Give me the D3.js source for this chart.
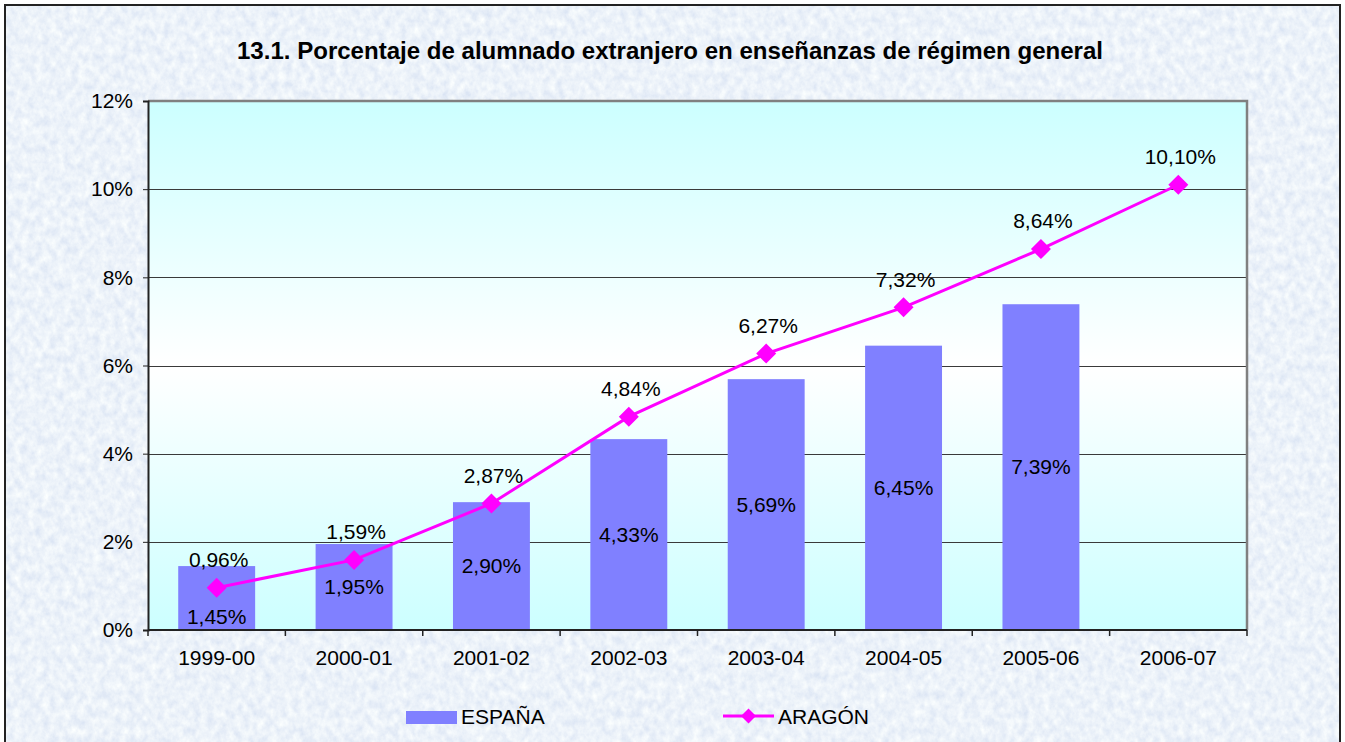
<!DOCTYPE html>
<html>
<head>
<meta charset="utf-8">
<script src="https://cdn.jsdelivr.net/npm/d3@7/dist/d3.min.js"></script>
<style>
  html, body { margin: 0; padding: 0; background: #ffffff; }
  svg { display: block; font-family: "Liberation Sans", Arial, sans-serif; }
</style>
</head>
<body>
<svg id="chart" width="1345" height="742"></svg>
<script>
// Curso escolar
const categories = ["1999-00", "2000-01", "2001-02", "2002-03", "2003-04", "2004-05", "2005-06", "2006-07"];
// Porcentaje de alumnado extranjero (%)
const espana = [1.45, 1.95, 2.90, 4.33, 5.69, 6.45, 7.39, null];
const aragon = [0.96, 1.59, 2.87, 4.84, 6.27, 7.32, 8.64, 10.10];
const yTicks = [0, 2, 4, 6, 8, 10, 12];
const seriesNames = ["ESPAÑA", "ARAGÓN"];
const title = "13.1. Porcentaje de alumnado extranjero en enseñanzas de régimen general";

const W = 1345, H = 742;
const plot = { left: 148, right: 1247, top: 101, bottom: 630 };

const esLocale = d3.formatLocale({ decimal: ",", thousands: ".", grouping: [3], currency: ["", " €"] });
const fmtVal = v => esLocale.format(".2f")(v) + "%";
const fmtTick = v => v + "%";

const svg = d3.select("#chart");
const defs = svg.append("defs");

// Marbled light-blue texture for the chart frame
const tex = defs.append("filter").attr("id", "marble")
  .attr("x", 0).attr("y", 0).attr("width", "100%").attr("height", "100%");
tex.append("feTurbulence").attr("type", "fractalNoise")
  .attr("baseFrequency", "0.14 0.11").attr("numOctaves", 4).attr("seed", 7).attr("result", "n");
tex.append("feColorMatrix").attr("in", "n").attr("type", "matrix")
  .attr("values", [
    0.34, 0, 0, 0, 0.67,
    0.28, 0, 0, 0, 0.75,
    0.12, 0, 0, 0, 0.89,
    0, 0, 0, 0, 1
  ].join(" "));

// Plot-area fill: cyan at the edges, white through the middle
const grad = defs.append("linearGradient").attr("id", "plotFill")
  .attr("x1", 0).attr("y1", 0).attr("x2", 0).attr("y2", 1);
grad.append("stop").attr("offset", "0%").attr("stop-color", "#ccffff");
grad.append("stop").attr("offset", "50%").attr("stop-color", "#ffffff");
grad.append("stop").attr("offset", "100%").attr("stop-color", "#ccffff");

// Chart frame
svg.append("rect").attr("x", 5).attr("y", 5).attr("width", 1335).attr("height", 745)
  .attr("fill", "#d8e5f5").attr("filter", "url(#marble)");
svg.append("rect").attr("x", 5).attr("y", 5).attr("width", 1335).attr("height", 745)
  .attr("fill", "none").attr("stroke", "#222").attr("stroke-width", 2);

// Title
const titleText = svg.append("text")
  .attr("x", 670).attr("y", 59)
  .attr("text-anchor", "middle")
  .attr("font-weight", "bold").attr("font-size", 23.5)
  .attr("fill", "#000")
  .text(title);
const tw = titleText.node().getComputedTextLength();
if (Math.abs(tw - 866) > 4) titleText.attr("textLength", 866).attr("lengthAdjust", "spacingAndGlyphs");

// Scales
const x = d3.scaleBand().domain(categories)
  .range([plot.left, plot.right]).paddingInner(0.44).paddingOuter(0.22);
const y = d3.scaleLinear().domain([0, 12]).range([plot.bottom, plot.top]);
const step = x.step();
const cx = c => x(c) + x.bandwidth() / 2;

// Plot area
svg.append("rect")
  .attr("x", plot.left).attr("y", plot.top)
  .attr("width", plot.right - plot.left).attr("height", plot.bottom - plot.top)
  .attr("fill", "url(#plotFill)");

// Gridlines
svg.append("g").selectAll("line").data(yTicks.filter(t => t > 0 && t < 12)).join("line")
  .attr("x1", plot.left).attr("x2", plot.right)
  .attr("y1", d => Math.round(y(d)) + 0.5).attr("y2", d => Math.round(y(d)) + 0.5)
  .attr("stroke", "#3a3a3a").attr("stroke-width", 1);

// Plot border (top and right)
svg.append("path")
  .attr("d", `M${plot.left},${plot.top} H${plot.right} V${plot.bottom}`)
  .attr("fill", "none").attr("stroke", "#808080").attr("stroke-width", 2.5);

// Bars: ESPAÑA
const barData = categories.map((c, i) => ({ c, v: espana[i], a: aragon[i] })).filter(d => d.v != null);
svg.append("g").selectAll("rect").data(barData).join("rect")
  .attr("x", d => x(d.c)).attr("width", x.bandwidth())
  .attr("y", d => y(d.v)).attr("height", d => y(0) - y(d.v))
  .attr("fill", "#8080ff");

// Y axis
const yAxis = d3.axisLeft(y).tickValues(yTicks).tickFormat(fmtTick).tickSize(5).tickPadding(10);
const gy = svg.append("g").attr("transform", `translate(${plot.left},0)`).call(yAxis);
gy.select(".domain").attr("stroke", "#222").attr("stroke-width", 2);
gy.selectAll(".tick line").attr("stroke", "#222");
gy.selectAll(".tick text").attr("font-size", 21).attr("fill", "#000")
  .attr("font-family", "Liberation Sans, Arial, sans-serif");

// X axis: labels centred on each category, ticks on the category boundaries
const xAxis = d3.axisBottom(x).tickSize(0).tickPadding(20);
const gx = svg.append("g").attr("transform", `translate(0,${plot.bottom})`).call(xAxis);
gx.select(".domain").attr("stroke", "#222").attr("stroke-width", 2)
  .attr("d", `M${plot.left},0H${plot.right}`);
gx.selectAll(".tick text").attr("font-size", 21).attr("fill", "#000")
  .attr("font-family", "Liberation Sans, Arial, sans-serif");
const bounds = categories.map(c => x(c) - (step - x.bandwidth()) / 2).concat([plot.right]);
gx.append("g").selectAll("line").data(bounds).join("line")
  .attr("x1", d => d).attr("x2", d => d).attr("y1", 0).attr("y2", 6)
  .attr("stroke", "#222").attr("stroke-width", 1.5);

// Line: ARAGÓN
const lineData = categories.map((c, i) => ({ c, v: aragon[i] }));
svg.append("path").datum(lineData)
  .attr("d", d3.line().x(d => cx(d.c)).y(d => y(d.v)))
  .attr("fill", "none").attr("stroke", "#ff00ff").attr("stroke-width", 3);

const diamond = r => `M0,${-r}L${r},0L0,${r}L${-r},0Z`;
svg.append("g").selectAll("path").data(lineData).join("path")
  .attr("transform", d => `translate(${cx(d.c)},${y(d.v)})`)
  .attr("d", diamond(10)).attr("fill", "#ff00ff");

// Value labels: ARAGÓN above its markers
svg.append("g").selectAll("text").data(lineData).join("text")
  .attr("x", d => cx(d.c) + 2).attr("y", d => y(d.v) - 28)
  .attr("dy", "0.35em").attr("text-anchor", "middle")
  .attr("font-size", 21).attr("fill", "#000")
  .text(d => fmtVal(d.v));

// Value labels: ESPAÑA centred in the bars, dropped to the base when a marker sits on the centre
svg.append("g").selectAll("text").data(barData).join("text")
  .attr("x", d => cx(d.c))
  .attr("y", d => {
    const mid = (y(d.v) + y(0)) / 2;
    return Math.abs(mid - y(d.a)) < 22 ? y(0) - 13 : mid;
  })
  .attr("dy", "0.35em").attr("text-anchor", "middle")
  .attr("font-size", 21).attr("fill", "#000")
  .text(d => fmtVal(d.v));

// Legend
const lg = svg.append("g");
lg.append("rect").attr("x", 406).attr("y", 711).attr("width", 51).attr("height", 13).attr("fill", "#8080ff");
lg.append("text").attr("x", 461).attr("y", 717).attr("dy", "0.35em")
  .attr("font-size", 21).attr("fill", "#000").text(seriesNames[0]);
lg.append("line").attr("x1", 723).attr("x2", 774).attr("y1", 716).attr("y2", 716)
  .attr("stroke", "#ff00ff").attr("stroke-width", 3);
lg.append("path").attr("transform", "translate(748.5,716)").attr("d", diamond(7.5)).attr("fill", "#ff00ff");
lg.append("text").attr("x", 778).attr("y", 717).attr("dy", "0.35em")
  .attr("font-size", 21).attr("fill", "#000").text(seriesNames[1]);
</script>
</body>
</html>
